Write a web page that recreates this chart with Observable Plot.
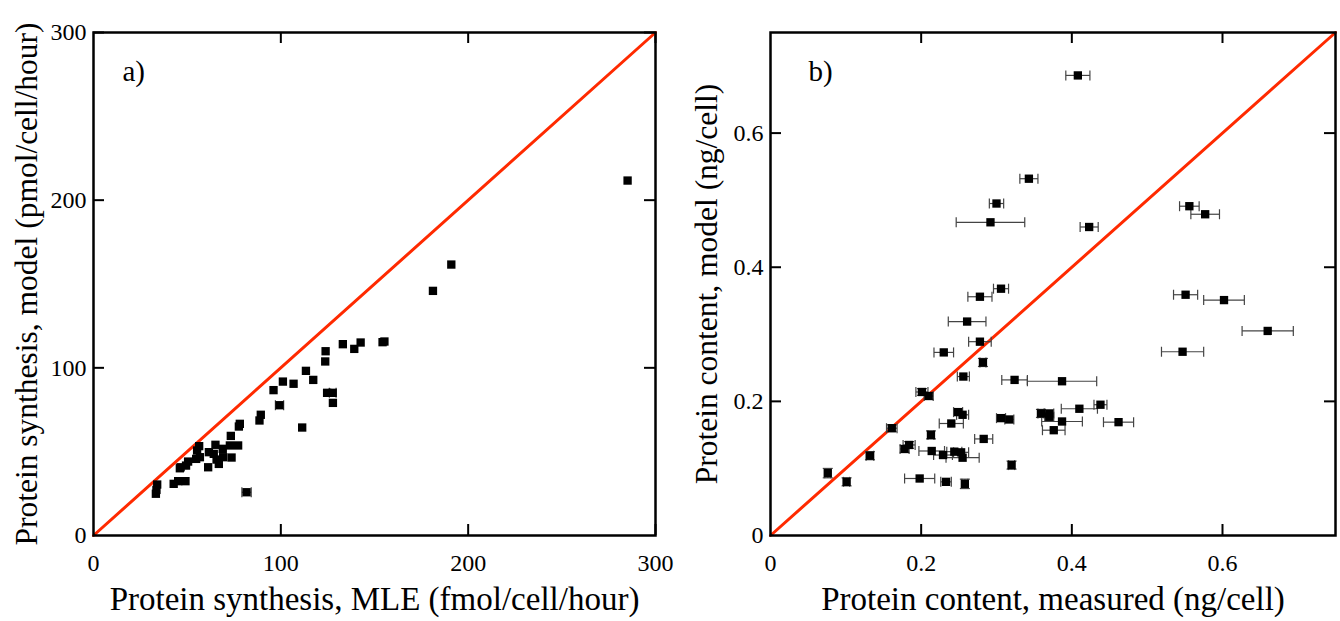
<!DOCTYPE html>
<html>
<head>
<meta charset="utf-8">
<script src="https://cdn.jsdelivr.net/npm/d3@7"></script>
<script src="https://cdn.jsdelivr.net/npm/@observablehq/plot@0.6"></script>
<style>
  html, body { margin: 0; padding: 0; background: #fff; }
  #wrap { display: flex; width: 1340px; height: 621px; }
  #wrap svg { overflow: visible; }
</style>
</head>
<body>
<div id="wrap"></div>
<script>
// ---- Panel a data: Protein synthesis, MLE vs model ----
const aX = [285.1,191.0,181.2,155.3,154.3,142.6,139.2,133.1,123.9,123.7,117.3,113.4,111.4,106.8,101.1,96.1,99.3,127.7,124.7,127.8,89.3,88.6,78.1,77.6,73.3,77.2,72.8,69.0,65.1,56.4,55.3,61.6,64.2,69.2,73.7,65.7,66.9,61.2,56.8,54.8,50.5,49.4,46.5,46.1,49.1,45.2,42.8,34.0,33.6,33.3,81.7];
const aY = [211.7,161.6,145.9,115.7,115.3,115.1,111.3,114.1,109.9,103.8,92.8,98.2,64.4,90.5,91.8,86.7,77.7,85.1,85.1,79.1,72.0,68.6,66.6,65.0,59.4,53.7,53.7,51.7,54.1,53.3,50.7,49.7,48.7,46.7,46.5,45.3,42.7,40.7,46.7,45.7,44.1,41.7,40.7,40.1,32.4,32.4,30.8,30.4,27.2,24.9,25.8];
const aXerr = [0,0,0,0,0,0,0,0,0,0,0,0,0,0,0,0,2.2,1.8,0,0,0,0,0,0,0,0,0,0,0,0,0,0,0,0,0,0,0,0,0,0,0,0,0,0,0,0,0,0,0,0,2.5];
const aTicks = [0, 100, 200, 300];
const aDiag = [0, 300];

// ---- Panel b data: Protein content, measured vs model ----
const bX = [0.408,0.343,0.300,0.292,0.423,0.556,0.577,0.306,0.278,0.551,0.602,0.261,0.660,0.278,0.547,0.230,0.282,0.256,0.324,0.387,0.201,0.210,0.438,0.410,0.249,0.255,0.359,0.370,0.370,0.306,0.317,0.387,0.462,0.240,0.161,0.376,0.213,0.283,0.184,0.178,0.214,0.229,0.244,0.253,0.255,0.132,0.320,0.076,0.198,0.101,0.233,0.258];
const bY = [0.686,0.532,0.495,0.467,0.460,0.491,0.479,0.368,0.356,0.359,0.351,0.319,0.305,0.289,0.274,0.273,0.258,0.237,0.232,0.230,0.214,0.208,0.195,0.189,0.184,0.180,0.182,0.182,0.177,0.175,0.173,0.170,0.169,0.167,0.160,0.157,0.150,0.144,0.135,0.129,0.126,0.120,0.125,0.124,0.116,0.119,0.105,0.093,0.085,0.080,0.080,0.077];
const bXerr = [0.016,0.012,0.0095,0.0455,0.012,0.013,0.019,0.010,0.016,0.016,0.027,0.025,0.034,0.015,0.028,0.013,0.004,0.008,0.017,0.046,0.008,0.006,0.0086,0.024,0.006,0.008,0.004,0.006,0.006,0.006,0.006,0.027,0.020,0.016,0.007,0.015,0.004,0.012,0.008,0.006,0.017,0.0125,0.010,0.010,0.022,0.005,0.004,0.004,0.020,0.004,0.007,0.004];
const bYerr = [0,0,0,0,0,0,0,0,0,0,0,0,0,0,0,0,0.006,0,0,0,0.005,0.005,0,0,0,0,0.006,0,0,0,0,0,0,0,0.005,0,0.006,0,0.005,0.005,0,0,0,0,0,0.006,0.006,0.007,0,0.006,0,0.007];
const bTicks = [0, 0.2, 0.4, 0.6];
const bDiag = [0, 0.75];

const aData = aX.map((x, i) => ({x, y: aY[i], e: aXerr[i], ey: 0}));
const bData = bX.map((x, i) => ({x, y: bY[i], e: bXerr[i], ey: bYerr[i]}));

const FONT = "Liberation Serif, Times New Roman, serif";
const vline = {draw(ctx, size) { const r = Math.sqrt(size / Math.PI); ctx.moveTo(0, -r); ctx.lineTo(0, r); }};
const hline = {draw(ctx, size) { const r = Math.sqrt(size / Math.PI); ctx.moveTo(-r, 0); ctx.lineTo(r, 0); }};

function panel({data, domain, ticks, fmt, diag, xLabel, yLabel, tag, tagDx, mLeft, mRight, yLabelDx}) {
  const W = 670, H = 621, mTop = 32, mBottom = 86;
  const inner = H - mTop - mBottom;
  const innerW = W - mLeft - mRight;
  const tickLen = 11;
  const inner_ticks = ticks.slice(1);
  const ex = data.filter(d => d.e > 0);
  const ey = data.filter(d => d.ey > 0);
  return Plot.plot({
    width: W, height: H,
    marginLeft: mLeft, marginRight: mRight, marginTop: mTop, marginBottom: mBottom,
    style: {fontFamily: FONT, fontSize: "24px", color: "#000", background: "none", overflow: "visible"},
    x: {domain, type: "linear"},
    y: {domain, type: "linear"},
    marks: [
      Plot.axisX(ticks, {tickSize: 0, tickPadding: 18, tickFormat: fmt, label: null, fontSize: 24}),
      Plot.axisY(ticks, {tickSize: 0, tickPadding: 7, tickFormat: fmt, label: null, fontSize: 24}),
      Plot.tickX(inner_ticks, {x: d => d, insetTop: inner - tickLen, stroke: "#000", strokeWidth: 2}),
      Plot.tickX(inner_ticks, {x: d => d, insetBottom: inner - tickLen, stroke: "#000", strokeWidth: 2}),
      Plot.tickY(inner_ticks, {y: d => d, insetRight: innerW - tickLen, stroke: "#000", strokeWidth: 2}),
      Plot.tickY(inner_ticks, {y: d => d, insetLeft: innerW - tickLen, stroke: "#000", strokeWidth: 2}),
      Plot.line(diag, {x: d => d, y: d => d, stroke: "#ff2a00", strokeWidth: 3}),
      Plot.link(ex, {x1: d => d.x - d.e, x2: d => d.x + d.e, y1: "y", y2: "y", stroke: "#444", strokeWidth: 1.2}),
      Plot.dot(ex, {x: d => d.x - d.e, y: "y", symbol: vline, r: 5, stroke: "#444", strokeWidth: 1.2}),
      Plot.dot(ex, {x: d => d.x + d.e, y: "y", symbol: vline, r: 5, stroke: "#444", strokeWidth: 1.2}),
      Plot.link(ey, {x1: "x", x2: "x", y1: d => d.y - d.ey, y2: d => d.y + d.ey, stroke: "#444", strokeWidth: 1.2}),
      Plot.dot(ey, {x: "x", y: d => d.y - d.ey, symbol: hline, r: 5, stroke: "#444", strokeWidth: 1.2}),
      Plot.dot(ey, {x: "x", y: d => d.y + d.ey, symbol: hline, r: 5, stroke: "#444", strokeWidth: 1.2}),
      Plot.dot(data, {x: "x", y: "y", symbol: "square", fill: "#000", r: 4.7}),
      Plot.frame({stroke: "#000", strokeWidth: 2.5}),
      Plot.text([xLabel], {frameAnchor: "bottom", textAnchor: "middle", lineAnchor: "middle", dy: 64, fontSize: 33, fill: "#000"}),
      Plot.text([yLabel], {frameAnchor: "left", textAnchor: "middle", lineAnchor: "middle", rotate: -90, dx: yLabelDx, fontSize: 31.5, fill: "#000"}),
      Plot.text([tag], {frameAnchor: "top-left", textAnchor: "start", lineAnchor: "top", dx: tagDx, dy: 28, fontSize: 29, fill: "#000"})
    ]
  });
}

const wrap = document.getElementById("wrap");
wrap.appendChild(panel({
  data: aData, domain: [0, 300], ticks: aTicks, fmt: d => String(d), diag: aDiag,
  xLabel: "Protein synthesis, MLE (fmol/cell/hour)",
  yLabel: "Protein synthesis, model (pmol/cell/hour)",
  tag: "a)", tagDx: 29, mLeft: 93, mRight: 15, yLabelDx: -67
}));
wrap.appendChild(panel({
  data: bData, domain: [0, 0.75], ticks: bTicks, fmt: d => d === 0 ? "0" : d3.format(".1f")(d), diag: bDiag,
  xLabel: "Protein content, measured (ng/cell)",
  yLabel: "Protein content, model (ng/cell)",
  tag: "b)", tagDx: 38, mLeft: 100, mRight: 5, yLabelDx: -64
}));
</script>
</body>
</html>
